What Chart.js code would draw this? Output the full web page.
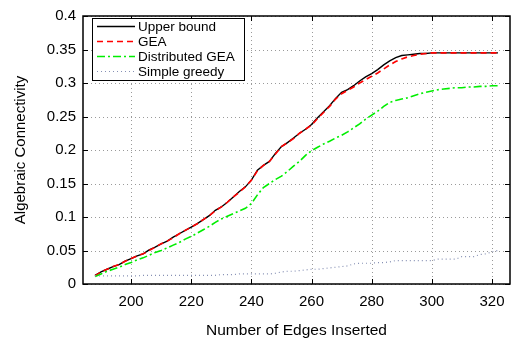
<!DOCTYPE html>
<html lang="en">
<head>
    <meta charset="UTF-8">
    <title>Algebraic Connectivity vs Edges Inserted</title>
    <script src="https://cdn.jsdelivr.net/npm/chart.js"></script>
    <style>
        html, body {
            margin: 0;
            padding: 0;
            background: #fff;
        }
        #wrap {
            width: 514px;
            height: 340px;
        }
    </style>
</head>
<body>
    <div id="wrap"><canvas id="connChart" width="514" height="340"></canvas></div>
    <script>
        // number of inserted edges (x)
        const edges = [
            188, 190, 192, 194, 196, 198, 200, 202, 204, 206,
            208, 210, 212, 214, 216, 218, 220, 222, 224, 226,
            228, 230, 232, 234, 236, 238, 240, 242, 244, 246,
            248, 250, 252, 254, 256, 258, 260, 262, 264, 266,
            268, 270, 272, 274, 276, 278, 280, 282, 284, 286,
            288, 290, 292, 294, 296, 298, 300, 302, 304, 306,
            308, 310, 312, 314, 316, 318, 320, 322
        ];
        const upperBound = [
            0.013, 0.018, 0.022, 0.026, 0.029, 0.034, 0.038, 0.042, 0.045, 0.051,
            0.055, 0.060, 0.064, 0.070, 0.075, 0.080, 0.085, 0.090, 0.096, 0.102,
            0.110, 0.115, 0.122, 0.130, 0.138, 0.145, 0.155, 0.170, 0.177, 0.183,
            0.195, 0.205, 0.211, 0.218, 0.225, 0.231, 0.238, 0.248, 0.257, 0.266,
            0.277, 0.286, 0.290, 0.296, 0.303, 0.309, 0.314, 0.320, 0.327, 0.333,
            0.338, 0.341, 0.342, 0.343, 0.344, 0.344, 0.345, 0.345, 0.345, 0.345,
            0.345, 0.345, 0.345, 0.345, 0.345, 0.345, 0.345, 0.345
        ];
        const gea = [
            0.012, 0.018, 0.022, 0.026, 0.029, 0.034, 0.038, 0.042, 0.045, 0.050,
            0.055, 0.060, 0.064, 0.069, 0.075, 0.080, 0.085, 0.090, 0.096, 0.102,
            0.109, 0.115, 0.122, 0.130, 0.137, 0.145, 0.155, 0.169, 0.177, 0.183,
            0.194, 0.205, 0.211, 0.217, 0.225, 0.231, 0.237, 0.247, 0.256, 0.265,
            0.276, 0.284, 0.289, 0.294, 0.300, 0.305, 0.310, 0.315, 0.321, 0.327,
            0.332, 0.336, 0.339, 0.341, 0.343, 0.344, 0.345, 0.345, 0.345, 0.345,
            0.345, 0.345, 0.345, 0.345, 0.345, 0.345, 0.345, 0.345
        ];
        const distributedGea = [
            0.011, 0.015, 0.019, 0.022, 0.025, 0.029, 0.032, 0.036, 0.039, 0.043,
            0.047, 0.050, 0.054, 0.058, 0.062, 0.067, 0.071, 0.076, 0.081, 0.086,
            0.092, 0.097, 0.101, 0.105, 0.109, 0.113, 0.120, 0.133, 0.144, 0.150,
            0.156, 0.161, 0.168, 0.176, 0.183, 0.192, 0.199, 0.204, 0.209, 0.213,
            0.218, 0.222, 0.227, 0.233, 0.239, 0.246, 0.252, 0.258, 0.265, 0.271,
            0.274, 0.276, 0.278, 0.281, 0.284, 0.286, 0.288, 0.290, 0.291, 0.292,
            0.293, 0.293, 0.294, 0.294, 0.295, 0.295, 0.296, 0.296
        ];
        const simpleGreedy = [
            0.012, 0.012, 0.012, 0.012, 0.012, 0.012, 0.012, 0.012, 0.013, 0.013,
            0.013, 0.013, 0.013, 0.013, 0.013, 0.013, 0.013, 0.013, 0.013, 0.013,
            0.013, 0.014, 0.014, 0.014, 0.015, 0.015, 0.015, 0.015, 0.015, 0.015,
            0.016, 0.018, 0.019, 0.019, 0.020, 0.021, 0.022, 0.022, 0.023, 0.024,
            0.025, 0.026, 0.027, 0.030, 0.031, 0.031, 0.031, 0.032, 0.032, 0.033,
            0.035, 0.035, 0.035, 0.035, 0.035, 0.035, 0.035, 0.037, 0.037, 0.037,
            0.037, 0.041, 0.041, 0.041, 0.044, 0.045, 0.048, 0.050
        ];
        const seriesNames = ['Upper bound', 'GEA', 'Distributed GEA', 'Simple greedy'];
        const xTicks = [200, 220, 240, 260, 280, 300, 320];
        const yTicks = [0, 0.05, 0.1, 0.15, 0.2, 0.25, 0.3, 0.35, 0.4];
        const yTickLabels = ['0', '0.05', '0.1', '0.15', '0.2', '0.25', '0.3', '0.35', '0.4'];

        const FONT = '"Liberation Sans", Arial, Helvetica, sans-serif';

        function toPoints(values) {
            return values.map((v, i) => ({ x: edges[i], y: v }));
        }

        // MATLAB-style box: dotted grid, frame, inward ticks on all four sides
        const boxPlugin = {
            id: 'box',
            beforeDatasetsDraw(chart) {
                const { ctx, chartArea: a, scales: { x, y } } = chart;
                ctx.save();
                ctx.strokeStyle = '#9a9a9a';
                ctx.lineWidth = 1;
                ctx.setLineDash([1, 3]);
                xTicks.forEach(v => {
                    const px = Math.round(x.getPixelForValue(v)) + 0.5;
                    ctx.beginPath(); ctx.moveTo(px, a.top); ctx.lineTo(px, a.bottom); ctx.stroke();
                });
                yTicks.forEach(v => {
                    const py = Math.round(y.getPixelForValue(v)) + 0.5;
                    ctx.beginPath(); ctx.moveTo(a.left, py); ctx.lineTo(a.right, py); ctx.stroke();
                });
                ctx.restore();
            },
            afterDraw(chart) {
                const { ctx, chartArea: a, scales: { x, y } } = chart;
                const len = 5;
                ctx.save();
                ctx.strokeStyle = '#000';
                ctx.lineWidth = 1.5;
                ctx.setLineDash([]);
                ctx.strokeRect(a.left, a.top, a.right - a.left, a.bottom - a.top);
                ctx.lineWidth = 1;
                ctx.beginPath();
                xTicks.forEach(v => {
                    const px = Math.round(x.getPixelForValue(v)) + 0.5;
                    ctx.moveTo(px, a.bottom); ctx.lineTo(px, a.bottom - len);
                    ctx.moveTo(px, a.top); ctx.lineTo(px, a.top + len);
                });
                yTicks.forEach(v => {
                    const py = Math.round(y.getPixelForValue(v)) + 0.5;
                    ctx.moveTo(a.left, py); ctx.lineTo(a.left + len, py);
                    ctx.moveTo(a.right, py); ctx.lineTo(a.right - len, py);
                });
                ctx.stroke();

                // legend box in the upper-left corner
                const bx = 92, by = 18, bw = 152, bh = 62, row = 15;
                ctx.fillStyle = '#fff';
                ctx.fillRect(bx, by, bw, bh);
                ctx.strokeStyle = '#000';
                ctx.lineWidth = 1;
                ctx.strokeRect(bx + 0.5, by + 0.5, bw, bh);
                ctx.font = '13.5px ' + FONT;
                ctx.textBaseline = 'middle';
                chart.data.datasets.forEach((ds, i) => {
                    const cy = by + 8.5 + i * row;
                    ctx.strokeStyle = ds.borderColor;
                    ctx.lineWidth = ds.borderWidth;
                    ctx.setLineDash(ds.borderDash || []);
                    ctx.beginPath(); ctx.moveTo(97, cy); ctx.lineTo(135, cy); ctx.stroke();
                    ctx.setLineDash([]);
                    ctx.fillStyle = '#000';
                    ctx.fillText(ds.label, 138, cy + 0.5);
                });
                ctx.restore();
            }
        };

        new Chart(document.getElementById('connChart'), {
            type: 'line',
            data: {
                datasets: [{
                    label: seriesNames[0],
                    data: toPoints(upperBound),
                    borderColor: '#000000',
                    borderWidth: 1.4,
                    order: 4
                }, {
                    label: seriesNames[1],
                    data: toPoints(gea),
                    borderColor: '#ff0000',
                    borderWidth: 1.6,
                    borderDash: [6, 4],
                    order: 3
                }, {
                    label: seriesNames[2],
                    data: toPoints(distributedGea),
                    borderColor: '#00ee00',
                    borderWidth: 1.6,
                    borderDash: [8, 3, 2, 3],
                    order: 2
                }, {
                    label: seriesNames[3],
                    data: toPoints(simpleGreedy),
                    borderColor: '#8690b4',
                    borderWidth: 1.2,
                    borderDash: [1, 3],
                    order: 1
                }]
            },
            options: {
                responsive: false,
                animation: false,
                devicePixelRatio: 1,
                layout: { padding: { top: 13, right: 4, left: 0, bottom: 0 } },
                elements: {
                    point: { radius: 0 },
                    line: { tension: 0, fill: false }
                },
                plugins: {
                    legend: { display: false },
                    tooltip: { enabled: false }
                },
                scales: {
                    x: {
                        type: 'linear',
                        min: 184,
                        max: 326,
                        afterBuildTicks: s => { s.ticks = xTicks.map(v => ({ value: v })); },
                        afterFit: s => { s.height = 56; },
                        grid: { display: false, drawTicks: false },
                        border: { display: false },
                        ticks: {
                            color: '#000',
                            padding: 9,
                            maxRotation: 0,
                            font: { family: FONT, size: 15 }
                        },
                        title: {
                            display: true,
                            text: 'Number of Edges Inserted',
                            color: '#000',
                            padding: { top: 7, bottom: 0 },
                            font: { family: FONT, size: 15.5 }
                        }
                    },
                    y: {
                        type: 'linear',
                        min: 0,
                        max: 0.4,
                        afterBuildTicks: s => { s.ticks = yTicks.map(v => ({ value: v })); },
                        afterFit: s => { s.width = 83; },
                        grid: { display: false, drawTicks: false },
                        border: { display: false },
                        ticks: {
                            color: '#000',
                            padding: 7,
                            font: { family: FONT, size: 15 },
                            callback: (v, i) => yTickLabels[i]
                        },
                        title: {
                            display: true,
                            text: 'Algebraic Connectivity',
                            color: '#000',
                            padding: { top: 12, bottom: 0 },
                            font: { family: FONT, size: 15 }
                        }
                    }
                }
            },
            plugins: [boxPlugin]
        });
    </script>
</body>
</html>
